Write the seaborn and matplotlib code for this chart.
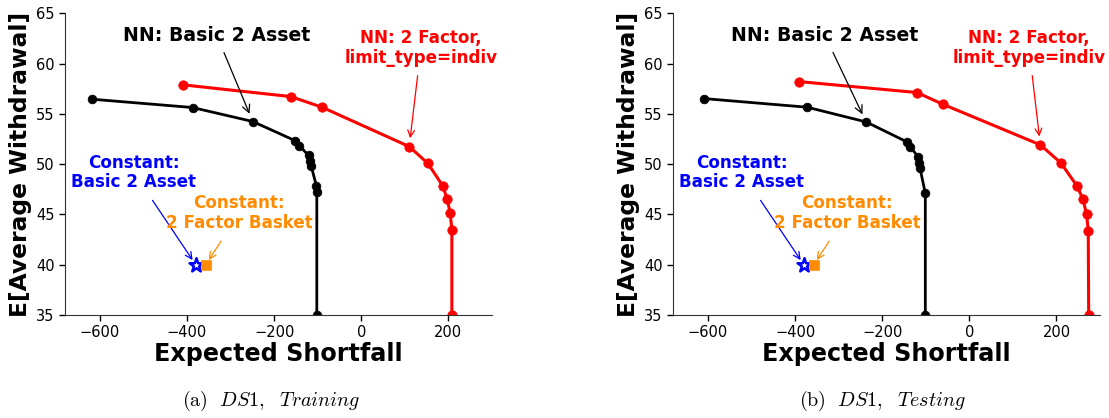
import matplotlib
matplotlib.use("Agg")
import matplotlib.pyplot as plt
import seaborn as sns
import pandas as pd

sns.set_style("ticks")
plt.rcParams["font.family"] = ["DejaVu Sans"]
plt.rcParams["mathtext.fontset"] = "cm"
plt.rcParams["text.color"] = "black"
plt.rcParams["axes.labelcolor"] = "black"
plt.rcParams["xtick.color"] = "black"
plt.rcParams["ytick.color"] = "black"

# Efficient frontiers: expected shortfall vs E[average withdrawal]
train_basic_es = [-619, -387, -249, -151, -142, -121, -117, -115, -103, -102, -102]
train_basic_ew = [56.46, 55.63, 54.24, 52.32, 51.85, 50.86, 50.33, 49.84, 47.85, 47.25, 35.0]
train_factor_es = [-408, -162, -90, 110, 153, 187, 197, 204, 208, 208]
train_factor_ew = [57.88, 56.72, 55.66, 51.75, 50.07, 47.85, 46.56, 45.17, 43.50, 35.0]

test_basic_es = [-609, -372, -237, -142, -136, -117, -116, -113, -101, -101]
test_basic_ew = [56.52, 55.66, 54.20, 52.19, 51.75, 50.70, 50.10, 49.57, 47.10, 35.0]
test_factor_es = [-391, -120, -61, 163, 210, 248, 261, 269, 273, 274]
test_factor_ew = [58.21, 57.12, 55.96, 51.92, 50.13, 47.78, 46.49, 45.03, 43.40, 35.0]

# Constant-withdrawal strategies (ES, EW)
const_basic = (-380, 40.0)
const_factor = (-357, 40.0)

panels = [
    ("(a)", "DS1,\\ \\ Training", train_basic_es, train_basic_ew, train_factor_es, train_factor_ew),
    ("(b)", "DS1,\\ \\ Testing", test_basic_es, test_basic_ew, test_factor_es, test_factor_ew),
]

fig = plt.figure(figsize=(11.09, 4.18), dpi=100)
ax_rects = [
    [0.0586, 0.2464, 0.3850, 0.7218],
    [0.6069, 0.2464, 0.3850, 0.7218],
]
caption_x = [0.2445, 0.7955]

for rect, cx, (tag, name, b_es, b_ew, f_es, f_ew) in zip(ax_rects, caption_x, panels):
    ax = fig.add_axes(rect)
    basic = pd.DataFrame({"es": b_es, "ew": b_ew})
    factor = pd.DataFrame({"es": f_es, "ew": f_ew})

    sns.lineplot(data=basic, x="es", y="ew", ax=ax, sort=False, estimator=None,
                 color="black", lw=2, marker="o", markersize=6.3,
                 markeredgecolor="black", markeredgewidth=0.5)
    sns.lineplot(data=factor, x="es", y="ew", ax=ax, sort=False, estimator=None,
                 color="red", lw=2.2, marker="o", markersize=6.8,
                 markeredgecolor="red", markeredgewidth=0.5)
    sns.scatterplot(x=[const_basic[0]], y=[const_basic[1]], ax=ax, marker="*",
                    s=110, facecolor="white", edgecolor="blue", linewidth=1.8, zorder=5)
    sns.scatterplot(x=[const_factor[0]], y=[const_factor[1]], ax=ax, marker="s",
                    s=42, color="darkorange", edgecolor="darkorange", linewidth=0.5, zorder=5)

    ax.set_xlim(-680, 300)
    ax.set_ylim(35, 65)
    ax.set_xticks([-600, -400, -200, 0, 200])
    ax.set_yticks([35, 40, 45, 50, 55, 60, 65])
    ax.tick_params(labelsize=10.5, length=4, width=1)
    for s in ("left", "bottom"):
        ax.spines[s].set_color("#333333")
    sns.despine(ax=ax)

    ax.set_xlabel("Expected Shortfall", fontsize=17.2, fontweight="bold", labelpad=1)
    ax.set_ylabel("E[Average Withdrawal]", fontsize=16.8, fontweight="bold", labelpad=3)

    ann = dict(fontweight="bold", ha="center", va="center")
    ax.annotate("NN: Basic 2 Asset", xy=(b_es[2], b_ew[2]), xytext=(-331, 62.75),
                color="black", fontsize=13.6,
                arrowprops=dict(arrowstyle="->", color="black", lw=0.9, shrinkA=3, shrinkB=6),
                **ann)
    ax.annotate("NN: 2 Factor,\nlimit_type=indiv", xy=(f_es[3], f_ew[3]), xytext=(137, 61.55),
                color="red", fontsize=12.1, linespacing=1.12,
                arrowprops=dict(arrowstyle="->", color="red", lw=0.9, shrinkA=4, shrinkB=6),
                **ann)
    ax.annotate("Constant:\nBasic 2 Asset", xy=const_basic, xytext=(-522, 49.17),
                color="blue", fontsize=12.1, linespacing=1.12,
                arrowprops=dict(arrowstyle="->", color="blue", lw=0.9, shrinkA=5, shrinkB=4),
                **ann)
    ax.annotate("Constant:\n2 Factor Basket", xy=const_factor, xytext=(-280, 45.12),
                color="darkorange", fontsize=12.1, linespacing=1.12,
                arrowprops=dict(arrowstyle="->", color="darkorange", lw=0.9, shrinkA=5, shrinkB=4),
                **ann)

    fig.text(cx, 0.040, r"$\mathrm{" + tag + r"}\ \ \mathit{" + name + "}$",
             ha="center", va="center", fontsize=14.5)

fig.savefig("out.png", dpi=100)
